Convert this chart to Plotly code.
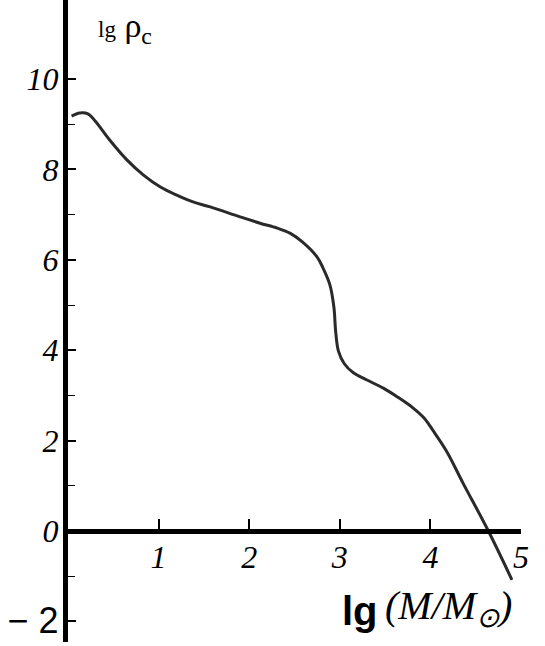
import plotly.graph_objects as go

# central density vs mass
lg_mass = [0.04, 0.13, 0.22, 0.30, 0.46, 0.65, 0.83, 1.02, 1.20, 1.38, 1.57,
           1.90, 2.12, 2.31, 2.45, 2.59, 2.75, 2.81, 2.89, 2.935, 2.955,
           2.985, 3.05, 3.15, 3.30, 3.48, 3.64, 3.81, 3.93, 4.03, 4.18, 4.36, 4.64, 4.90]
lg_rho_c = [9.18, 9.25, 9.23, 9.07, 8.65, 8.21, 7.88, 7.61, 7.43, 7.28, 7.17,
            6.95, 6.81, 6.70, 6.59, 6.39, 6.06, 5.84, 5.45, 4.95, 4.40,
            3.98, 3.70, 3.50, 3.34, 3.16, 2.96, 2.72, 2.50, 2.22, 1.76, 1.06, 0.00, -1.08]

x_tick_vals = [1, 2, 3, 4, 5]
x_tick_text = ["1", "2", "3", "4", "5"]
y_tick_vals = [-2, 0, 2, 4, 6, 8, 10]
y_tick_text = ["<span style='font-family:Liberation Sans;font-style:normal;font-size:36px'>− 2</span>",
               "0", "2", "4", "6", "8", "10"]
y_minor_vals = [-1, 1, 3, 5, 7, 9]

y_min, y_max = -2.456, 11.748
x_min, x_max = 0, 5.0

fig = go.Figure(go.Scatter(
    x=lg_mass, y=lg_rho_c, mode="lines",
    line=dict(color="#2a2a2a", width=3, shape="spline", smoothing=1.0),
    hoverinfo="skip", showlegend=False,
))

fig.update_layout(
    template="none",
    width=545, height=646, autosize=False,
    margin=dict(l=68, r=24, t=0, b=4, pad=0),
    paper_bgcolor="white", plot_bgcolor="white",
    xaxis=dict(
        range=[x_min, x_max], anchor="free", automargin=False,
        position=(0 - y_min) / (y_max - y_min),
        showline=True, linewidth=4.5, linecolor="black",
        ticks="inside", ticklen=10, tickwidth=1.5, tickcolor="black",
        tickvals=x_tick_vals, ticktext=x_tick_text,
        tickfont=dict(family="Liberation Serif", size=32, color="black", style="italic"),
        ticklabelstandoff=-4,
        showgrid=False, zeroline=False,
    ),
    yaxis=dict(
        range=[y_min, y_max], automargin=False,
        showline=True, linewidth=5, linecolor="black",
        ticks="inside", ticklen=8, tickwidth=1.5, tickcolor="black",
        tickvals=y_tick_vals, ticktext=y_tick_text,
        minor=dict(tickvals=y_minor_vals, ticks="inside", ticklen=7,
                   tickwidth=1.2, tickcolor="black", showgrid=False),
        tickfont=dict(family="Liberation Serif", size=32, color="black", style="italic"),
        ticklabelstandoff=-2,
        showgrid=False, zeroline=False,
    ),
)

# axis titles
fig.add_annotation(x=0.31, y=11.12, xref="x", yref="y", xanchor="left", yanchor="middle",
                   text="<span style='font-size:23px'>lg</span> ρ<sub>c</sub>",
                   showarrow=False, font=dict(family="Liberation Serif", size=34, color="black"))
fig.add_annotation(x=3.0, y=-1.77, xref="x", yref="y", xanchor="left", yanchor="middle",
                   text="<b>lg</b>", showarrow=False,
                   font=dict(family="Liberation Sans", size=40, color="black"))
fig.add_annotation(x=3.48, y=-1.70, xref="x", yref="y", xanchor="left", yanchor="middle",
                   text="(M/M<sub>⊙</sub>)", showarrow=False,
                   font=dict(family="Liberation Serif", size=40, color="black", style="italic"))

# page body has a default 8px margin; drop it so the figure sits at the corner
fig.write_html("out.html", config={"displayModeBar": False},
               post_script="document.body.style.margin='0';")
